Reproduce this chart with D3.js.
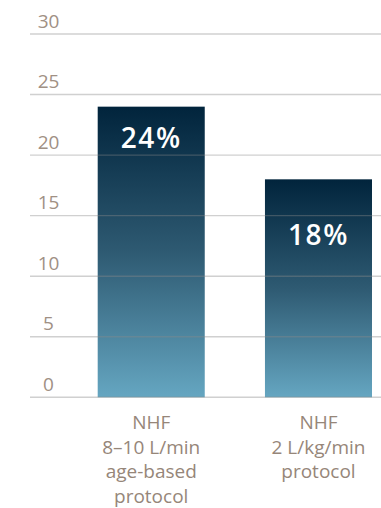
<!DOCTYPE html>
<html>
<head>
<meta charset="utf-8">
<script src="https://cdn.jsdelivr.net/npm/d3@7/dist/d3.min.js"></script>
<style>
  html, body { margin: 0; padding: 0; background: #ffffff; }
  svg { display: block; }
</style>
</head>
<body>
<svg id="chart" width="381" height="508"></svg>
<script>
// Share of patients (%) for each nasal high-flow protocol
const categories = [
  ["NHF", "8–10 L/min", "age-based", "protocol"],
  ["NHF", "2 L/kg/min", "protocol"]
];
const values = [24, 18];
const valueLabels = ["24%", "18%"];
const yTicks = [0, 5, 10, 15, 20, 25, 30];

const W = 381, H = 508;
const svg = d3.select("#chart");

const x = d3.scaleBand()
  .domain(d3.range(values.length))
  .range([97.7, 372])
  .paddingInner(0.36)
  .paddingOuter(0);

const y = d3.scaleLinear().domain([0, 30]).range([397.3, 34]);

// vertical gradient for each bar, dark at its top and light at the base
const defs = svg.append("defs");
const grad = defs.append("linearGradient")
  .attr("id", "barGrad")
  .attr("x1", 0).attr("x2", 0)
  .attr("y1", 0).attr("y2", 1);
grad.append("stop").attr("offset", "0%").attr("stop-color", "#01243c");
grad.append("stop").attr("offset", "50%").attr("stop-color", "#2e5a72");
grad.append("stop").attr("offset", "100%").attr("stop-color", "#65a6c1");

const font = "'Open Sans', Lato, sans-serif";

// bars
svg.append("g").selectAll("rect")
  .data(values)
  .join("rect")
  .attr("x", (d, i) => x(i))
  .attr("width", x.bandwidth())
  .attr("y", d => y(d))
  .attr("height", d => y(0) - y(d))
  .attr("fill", "url(#barGrad)");

// horizontal grid lines, drawn over the bars
svg.append("g").selectAll("line")
  .data(yTicks)
  .join("line")
  .attr("x1", 30).attr("x2", W)
  .attr("y1", d => y(d)).attr("y2", d => y(d))
  .attr("stroke", "#8a8a8a")
  .attr("stroke-opacity", 0.4)
  .attr("stroke-width", 1.4);

// tick labels sit just above each grid line
svg.append("g").selectAll("text")
  .data(yTicks)
  .join("text")
  .attr("x", 48.5)
  .attr("y", d => y(d) - 6.5)
  .attr("text-anchor", "middle")
  .attr("font-family", font)
  .attr("font-weight", 400)
  .attr("font-size", 19)
  .attr("fill", "#a09084")
  .text(d => d);

// value labels inside the bars
const labelDrop = [41, 66];
svg.append("g").selectAll("text")
  .data(values)
  .join("text")
  .attr("x", (d, i) => x(i) + x.bandwidth() / 2)
  .attr("y", (d, i) => y(d) + labelDrop[i])
  .attr("text-anchor", "middle")
  .attr("font-family", font)
  .attr("font-weight", 600)
  .attr("font-size", 28)
  .attr("letter-spacing", 1.5)
  .attr("fill", "#ffffff")
  .text((d, i) => valueLabels[i]);

// category labels
const cat = svg.append("g").selectAll("text")
  .data(categories)
  .join("text")
  .attr("text-anchor", "middle")
  .attr("font-family", font)
  .attr("font-weight", 400)
  .attr("font-size", 19)
  .attr("fill", "#968679");
cat.selectAll("tspan")
  .data((d, i) => d.map(line => ({ line, i })))
  .join("tspan")
  .attr("x", d => x(d.i) + x.bandwidth() / 2)
  .attr("y", (d, j) => 429 + j * 24.6)
  .text(d => d.line);
</script>
</body>
</html>
